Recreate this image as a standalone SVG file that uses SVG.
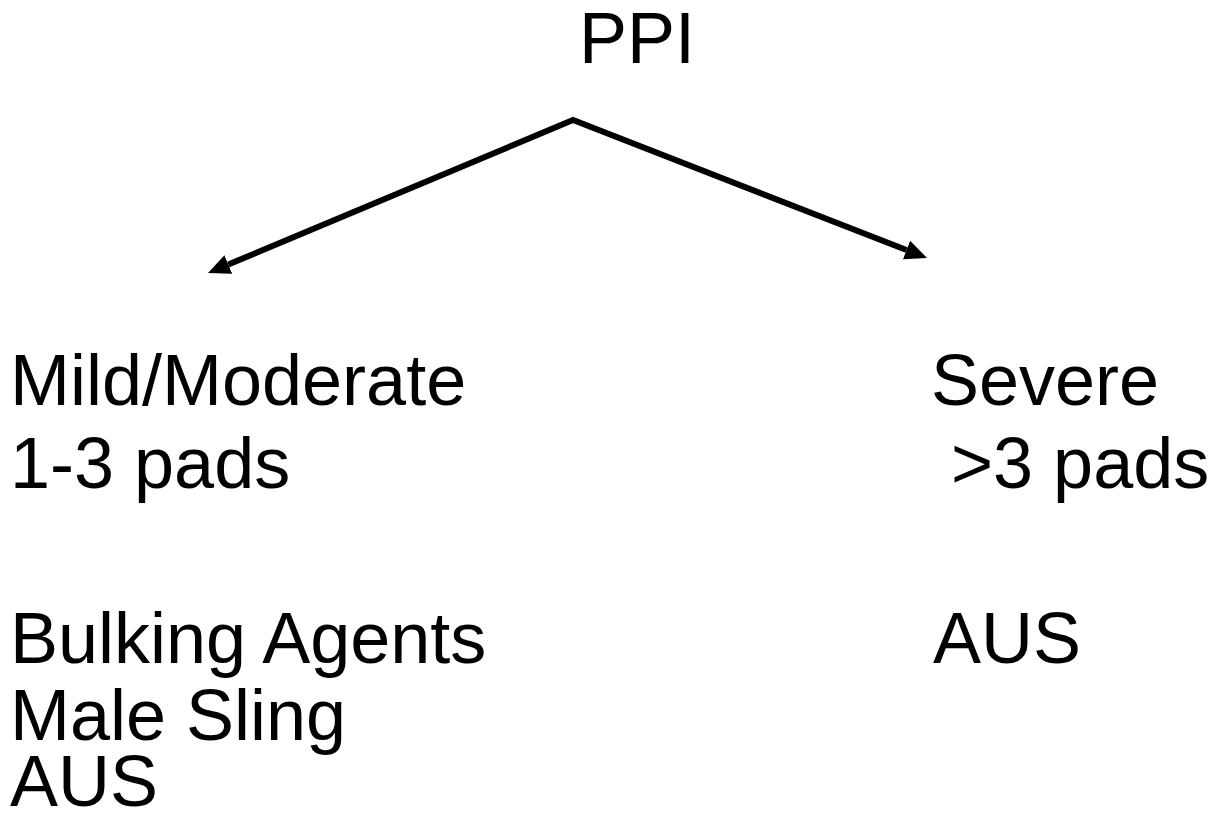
<svg xmlns="http://www.w3.org/2000/svg" width="1212" height="819" viewBox="0 0 1212 819">
<style>
.t{font-family:"Liberation Sans",Arial,sans-serif;font-size:72px;fill:#000}
.c{fill:none;stroke:#000;stroke-width:6;stroke-linejoin:miter}
</style>
<defs>
<marker id="ah" viewBox="0 -10 22 20" refX="0" refY="0" markerWidth="22" markerHeight="20" markerUnits="userSpaceOnUse" orient="auto-start-reverse">
<path d="M0,-10 L22,0 L0,10 z" fill="#000"/>
</marker>
</defs>
<rect width="1212" height="819" fill="#fff"/>
<g id="connectors">
<path class="c" d="M228.3,264.5 L573,120 L906.5,250" marker-start="url(#ah)" marker-end="url(#ah)"/>
</g>
<g id="ppi"><text class="t" x="579" y="63">PPI</text></g>
<g id="mild">
<text class="t" x="10" y="405">Mild/Moderate</text>
<text class="t" x="10" y="488">1-3 pads</text>
</g>
<g id="severe">
<text class="t" x="931" y="405">Severe</text>
<text class="t" x="931" y="488" xml:space="preserve"> &gt;3 pads</text>
</g>
<g id="mild-treat">
<text class="t" x="10" y="663">Bulking Agents</text>
<text class="t" x="10" y="740">Male Sling</text>
<text class="t" x="10" y="806">AUS</text>
</g>
<g id="severe-treat"><text class="t" x="933" y="663">AUS</text></g>
</svg>
